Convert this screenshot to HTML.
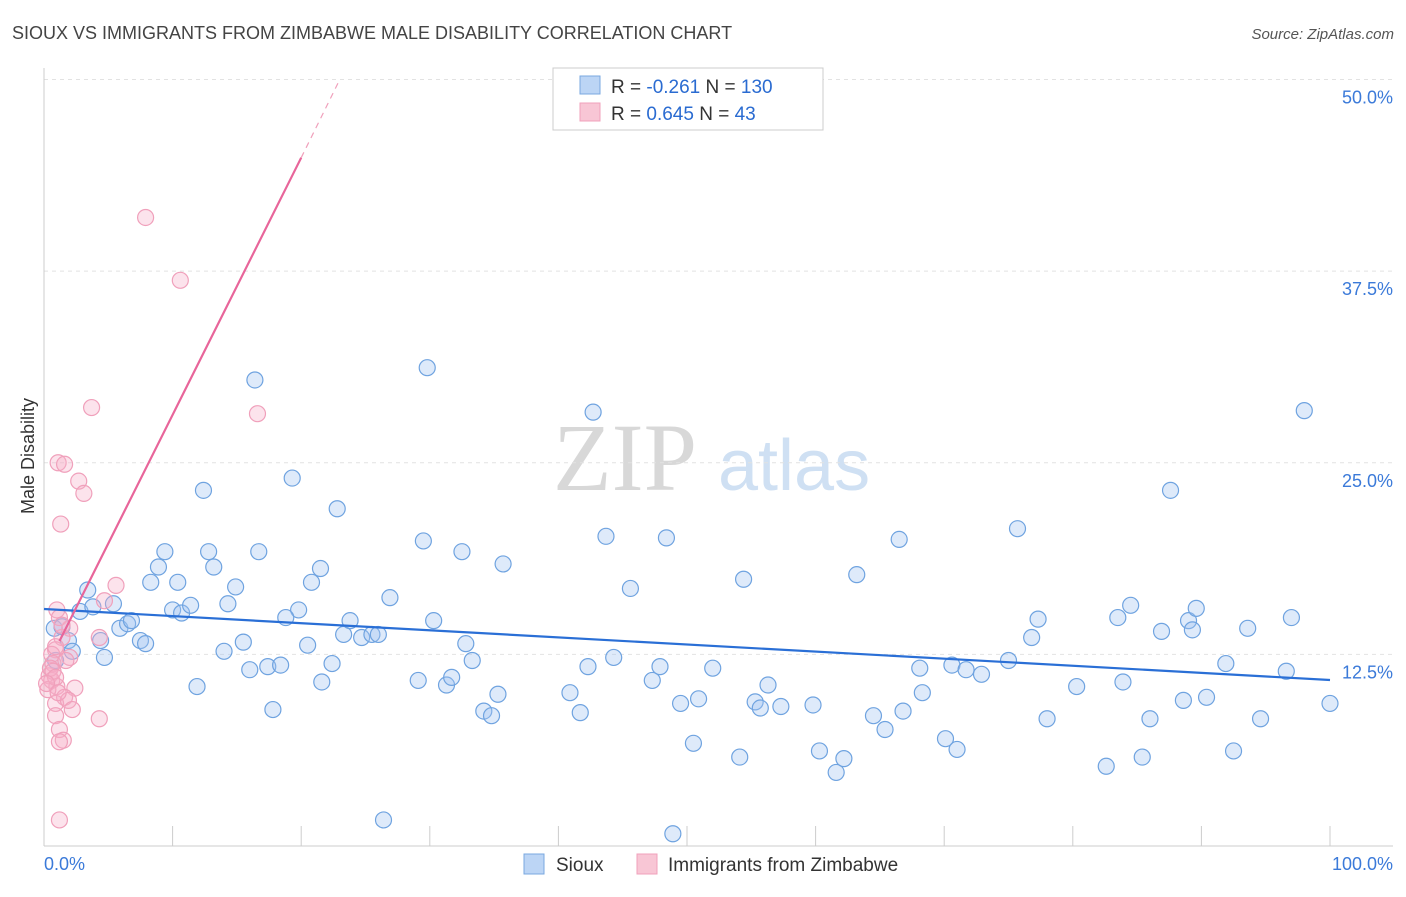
<!DOCTYPE html>
<html><head><meta charset="utf-8">
<style>
body{margin:0;background:#fff;font-family:"Liberation Sans",sans-serif;}
svg text{font-family:"Liberation Sans",sans-serif;}
</style></head>
<body>
<svg id="chart" width="1406" height="892" xmlns="http://www.w3.org/2000/svg">
<text x="12" y="39" font-size="18" fill="#444">SIOUX VS IMMIGRANTS FROM ZIMBABWE MALE DISABILITY CORRELATION CHART</text>
<text x="1394" y="39" font-size="15" fill="#555" text-anchor="end" font-style="italic">Source: ZipAtlas.com</text>
<g>
<text x="553" y="490" font-size="96" fill="#d8d8d8" font-family="Liberation Serif" style="font-family:'Liberation Serif',serif">ZIP</text>
<text x="718" y="490" font-size="72" fill="#cfe0f3">atlas</text>
</g>
<g id="grid"></g>
<g id="axes"></g>
<g id="pts"></g>
<g id="lines"></g>
<text transform="translate(34,456) rotate(-90)" font-size="18" fill="#333" text-anchor="middle">Male Disability</text>
<g>
<rect x="553" y="68" width="270" height="62" fill="#fff" stroke="#ccc"/>
<rect x="580" y="76" width="20" height="18" fill="#bcd5f5" stroke="#7aa8e0"/>
<rect x="580" y="103" width="20" height="18" fill="#f8c6d5" stroke="#f0a0bb"/>
<text x="611" y="93" font-size="19" fill="#333">R = <tspan fill="#2a6bd1">-0.261</tspan>   N = <tspan fill="#2a6bd1">130</tspan></text>
<text x="611" y="120" font-size="19" fill="#333">R =  <tspan fill="#2a6bd1">0.645</tspan>   N =   <tspan fill="#2a6bd1">43</tspan></text>
</g>
<g>
<rect x="524" y="854" width="20" height="20" fill="#bcd5f5" stroke="#7aa8e0"/>
<text x="556" y="871" font-size="19" fill="#333">Sioux</text>
<rect x="637" y="854" width="20" height="20" fill="#f8c6d5" stroke="#f0a0bb"/>
<text x="668" y="871" font-size="19" fill="#333">Immigrants from Zimbabwe</text>
</g>
</svg>
<script>
const blueX=[0.8,1.4,1.9,2.2,0.9,2.8,3.4,3.8,4.4,4.7,5.4,5.9,6.5,6.8,7.5,7.9,8.3,8.9,9.4,10.0,10.4,10.7,11.4,11.9,12.4,12.8,13.2,14.0,14.3,14.9,15.5,16.0,16.4,16.7,17.4,17.8,18.4,19.3,19.8,18.8,20.5,20.8,21.5,21.6,22.4,22.8,23.3,23.8,24.7,25.5,26.0,26.4,26.9,29.1,29.5,29.8,30.3,31.3,31.7,32.5,32.8,33.3,34.2,34.8,35.3,35.7,40.9,41.7,42.3,42.7,43.7,44.3,45.6,47.3,47.9,48.4,48.9,49.5,50.5,50.9,52.0,54.1,54.4,55.3,55.7,56.3,57.3,59.8,60.3,61.6,62.2,63.2,64.5,65.4,66.5,66.8,68.1,68.3,70.1,70.6,71.0,71.7,72.9,75.0,75.7,76.8,77.3,78.0,80.3,82.6,83.5,83.9,84.5,85.4,86.0,86.9,87.6,88.6,89.0,89.3,89.6,90.4,91.9,92.5,93.6,94.6,96.6,97.0,98.0,100];
const blueY=[14.2,14.3,13.4,12.7,12.1,15.3,16.7,15.6,13.4,12.3,15.8,14.2,14.5,14.7,13.4,13.2,17.2,18.2,19.2,15.4,17.2,15.2,15.7,10.4,23.2,19.2,18.2,12.7,15.8,16.9,13.3,11.5,30.4,19.2,11.7,8.9,11.8,24.0,15.4,14.9,13.1,17.2,18.1,10.7,11.9,22.0,13.8,14.7,13.6,13.8,13.8,1.7,16.2,10.8,19.9,31.2,14.7,10.5,11.0,19.2,13.2,12.1,8.8,8.5,9.9,18.4,10.0,8.7,11.7,28.3,20.2,12.3,16.8,10.8,11.7,20.1,0.8,9.3,6.7,9.6,11.6,5.8,17.4,9.4,9.0,10.5,9.1,9.2,6.2,4.8,5.7,17.7,8.5,7.6,20.0,8.8,11.6,10.0,7.0,11.8,6.3,11.5,11.2,12.1,20.7,13.6,14.8,8.3,10.4,5.2,14.9,10.7,15.7,5.8,8.3,14.0,23.2,9.5,14.7,14.1,15.5,9.7,11.9,6.2,14.2,8.3,11.4,14.9,28.4,9.3];
const pinkX=[7.9,10.6,3.7,16.6,1.1,1.6,2.7,3.1,1.3,5.6,4.7,1.0,1.2,2.0,1.4,4.3,0.9,0.6,2.0,0.7,0.4,0.6,1.0,2.4,0.3,1.6,0.9,1.9,2.2,0.9,4.3,1.2,1.5,1.2,1.2,0.5,0.7,0.9,0.2,1.1,1.7,0.9,1.4];
const pinkY=[41.0,36.9,28.6,28.2,25.0,24.9,23.8,23.0,21.0,17.0,16.0,15.4,14.9,14.2,13.6,13.6,12.8,12.5,12.3,11.9,11.1,10.8,10.4,10.3,10.2,9.7,9.3,9.5,8.9,8.5,8.3,7.6,6.9,6.8,1.7,11.6,11.4,11.0,10.6,10.0,12.1,13.0,14.4];
const yTicks=[12.5,25.0,37.5,50.0];
const blueTrend=[15.46,10.83];
const pinkTrend=[11.35,44.9,50.0];
const pinkTrendX=[0,20,23];

const NS="http://www.w3.org/2000/svg";
const X=v=>44+v*12.86, Y=v=>846-v*15.33;
function mk(tag,attrs,parent){const e=document.createElementNS(NS,tag);for(const k in attrs)e.setAttribute(k,attrs[k]);document.getElementById(parent).appendChild(e);return e;}
yTicks.forEach(t=>{
  const l=mk('line',{x1:44,x2:1393,y1:Y(t),y2:Y(t),stroke:'#e2e2e2','stroke-dasharray':'4,4'},'grid');
  
  
  const tx=mk('text',{x:1393,y:Y(t)+24,'font-size':18,fill:'#3b7ad9','text-anchor':'end'},'axes');
  tx.textContent=t.toFixed(1)+'%';
  
  
});
mk('line',{x1:44,x2:44,y1:68,y2:846,stroke:'#ccc'},'axes');
mk('line',{x1:44,x2:1393,y1:846,y2:846,stroke:'#ccc'},'axes');
for(let i=1;i<=10;i++){const t=mk('line',{x1:X(i*10),x2:X(i*10),y1:826,y2:846,stroke:'#ccc'},'axes');}
const xl0=mk('text',{x:44,y:870,'font-size':18,fill:'#3b7ad9'},'axes');xl0.textContent='0.0%';


const xl1=mk('text',{x:1393,y:870,'font-size':18,fill:'#3b7ad9','text-anchor':'end'},'axes');xl1.textContent='100.0%';


blueX.forEach((v,i)=>{const c=mk('circle',{cx:X(v),cy:Y(blueY[i]),r:8,fill:'rgba(160,195,240,0.35)',stroke:'#6fa3e0','stroke-width':1.2},'pts');
  
  });
pinkX.forEach((v,i)=>{const c=mk('circle',{cx:X(v),cy:Y(pinkY[i]),r:8,fill:'rgba(245,175,200,0.35)',stroke:'#f0a0bb','stroke-width':1.2},'pts');
  
  });
const bl=mk('line',{x1:X(0),y1:Y(blueTrend[0]),x2:X(100),y2:Y(blueTrend[1]),stroke:'#2a6fd6','stroke-width':2.2},'lines');


const pl=mk('line',{x1:X(1.2),y1:Y(pinkTrend[0]+(pinkTrend[1]-pinkTrend[0])*1.2/20),x2:X(pinkTrendX[1]),y2:Y(pinkTrend[1]),stroke:'#e8659a','stroke-width':2.2},'lines');


const pd=mk('line',{x1:X(pinkTrendX[1]),y1:Y(pinkTrend[1]),x2:X(pinkTrendX[2]),y2:Y(pinkTrend[2]),stroke:'#f0a0bb','stroke-width':1.2,'stroke-dasharray':'6,5'},'lines');


</script>
</body></html>
